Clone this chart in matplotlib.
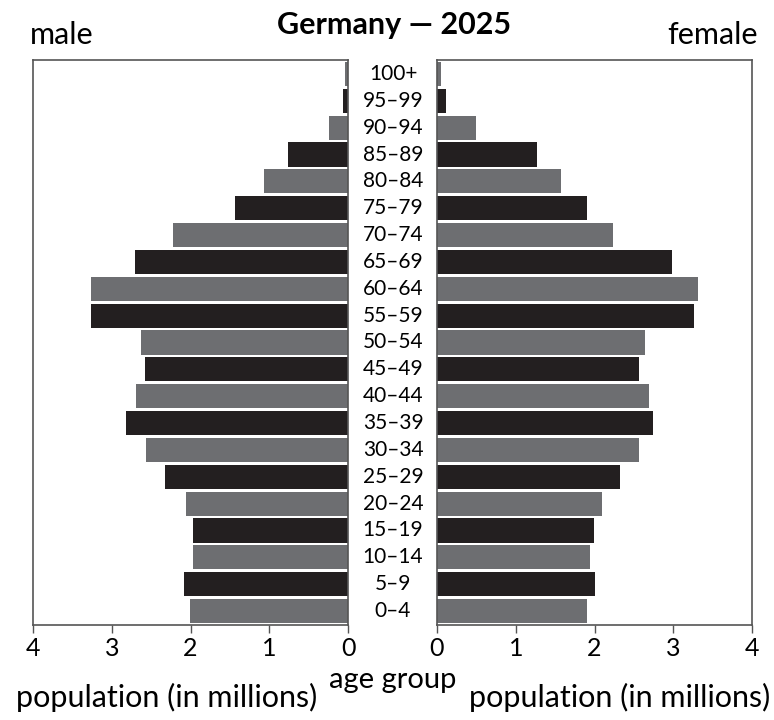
import numpy as np
import matplotlib
matplotlib.use('Agg')
import matplotlib.pyplot as plt

plt.rcParams['font.family'] = ['Lato', 'DejaVu Sans']

# age groups from youngest to oldest
age_groups = ['0–4', '5–9', '10–14', '15–19', '20–24', '25–29', '30–34', '35–39',
              '40–44', '45–49', '50–54', '55–59', '60–64', '65–69', '70–74',
              '75–79', '80–84', '85–89', '90–94', '95–99', '100+']
# population in millions
male = [2.01, 2.08, 1.97, 1.97, 2.06, 2.32, 2.57, 2.82, 2.69, 2.58, 2.63,
        3.26, 3.26, 2.70, 2.22, 1.43, 1.07, 0.76, 0.24, 0.06, 0.04]
female = [1.91, 2.00, 1.94, 1.99, 2.10, 2.32, 2.57, 2.74, 2.69, 2.57, 2.64,
          3.26, 3.32, 2.98, 2.23, 1.91, 1.57, 1.27, 0.49, 0.12, 0.05]
ticks = [0, 1, 2, 3, 4]

gray = '#6d6e71'
dark = '#231f20'
colors = [gray if i % 2 == 0 else dark for i in range(len(age_groups))]
y = np.arange(len(age_groups))

fig = plt.figure(figsize=(7.74, 7.2), dpi=100)
W, H = 774, 720
ax_l = fig.add_axes([33 / W, 95 / H, 315 / W, 565 / H])
ax_r = fig.add_axes([437 / W, 95 / H, 315 / W, 565 / H])

ax_l.barh(y, male, height=0.9, color=colors)
ax_r.barh(y, female, height=0.9, color=colors)

for ax in (ax_l, ax_r):
    ax.set_ylim(-0.52, 20.52)
    ax.set_yticks([])
    ax.set_xticks(ticks)
    ax.set_xticklabels([str(t) for t in ticks])
    ax.tick_params(axis='x', direction='out', length=6, width=1, colors='#555555',
                   labelcolor='black', labelsize=18, pad=3)
    for s in ax.spines.values():
        s.set_color('#555555')
        s.set_linewidth(1.2)

ax_l.set_xlim(4, 0)
ax_r.set_xlim(0, 4)

for i, lab in enumerate(age_groups):
    fig.text(393 / W, ax_l.transData.transform((0, i))[1] / H, lab,
             ha='center', va='center', fontsize=15)

fig.text(167 / W, 1 - 697 / H, 'population (in millions)', ha='center', va='center', fontsize=22)
fig.text(620 / W, 1 - 697 / H, 'population (in millions)', ha='center', va='center', fontsize=22)
fig.text(393 / W, 1 - 680 / H, 'age group', ha='center', va='center', fontsize=21)
fig.text(394 / W, 1 - 25 / H, 'Germany — 2025', ha='center', va='center',
         fontsize=22, fontweight='bold')
fig.text(30 / W, 1 - 35 / H, 'male', ha='left', va='center', fontsize=22)
fig.text(758 / W, 1 - 35 / H, 'female', ha='right', va='center', fontsize=22)

fig.savefig('out.png', dpi=100)
